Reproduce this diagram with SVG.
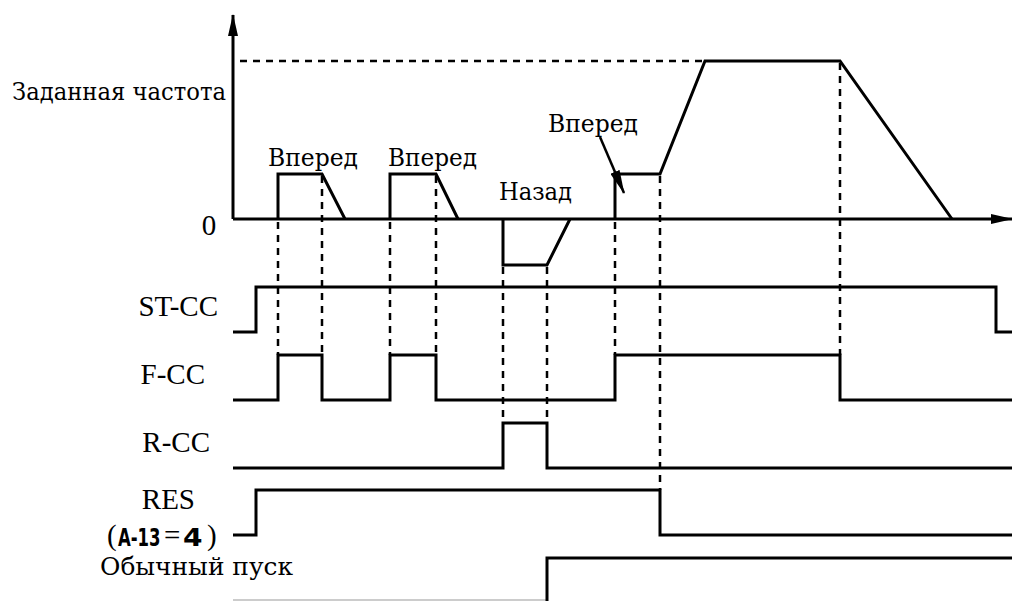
<svg xmlns="http://www.w3.org/2000/svg" width="1012" height="601" viewBox="0 0 1012 601">
<style>
.t{font-family:"Liberation Serif","Times New Roman",serif;font-size:29px;fill:#000}
.c{font-family:"DejaVu Serif","Liberation Serif",serif;font-size:25px;fill:#000}
.s{fill:none;stroke:#000;stroke-width:3;stroke-linejoin:miter}
.d{fill:none;stroke:#000;stroke-width:2.5;stroke-dasharray:7,6}
.led{font-family:"DejaVu Sans","Liberation Sans",sans-serif;font-weight:bold;font-size:16.5px}
</style>
<defs>
<marker id="ah" markerWidth="24" markerHeight="10" refX="23" refY="5" orient="auto" markerUnits="userSpaceOnUse" viewBox="0 0 24 10">
<path d="M0,0 L24,5 L0,10 Z" fill="#000"/>
</marker>
<marker id="axh" markerWidth="22" markerHeight="10" refX="21" refY="5" orient="auto" markerUnits="userSpaceOnUse" viewBox="0 0 22 10">
<path d="M0,0 L22,5 L0,10 Z" fill="#000"/>
</marker>
</defs>
<g id="labels">
<text class="c" x="12" y="100" textLength="214" lengthAdjust="spacingAndGlyphs">Заданная частота</text>
<text class="t" x="209" y="235" text-anchor="middle">0</text>
<text class="c" x="268" y="166" textLength="90" lengthAdjust="spacingAndGlyphs">Вперед</text>
<text class="c" x="388" y="166" textLength="89" lengthAdjust="spacingAndGlyphs">Вперед</text>
<text class="c" x="499" y="200" textLength="73" lengthAdjust="spacingAndGlyphs">Назад</text>
<text class="c" x="548" y="132" textLength="90" lengthAdjust="spacingAndGlyphs">Вперед</text>
<text class="t" x="218" y="316" text-anchor="end">ST-CC</text>
<text class="t" x="205" y="384" text-anchor="end">F-CC</text>
<text class="t" x="210" y="452" text-anchor="end">R-CC</text>
<text class="t" x="195" y="509" text-anchor="end">RES</text>
<text class="t" x="107" y="545">(</text>
<text class="led" transform="translate(118,546) scale(1,1.5)">A-13</text>
<text class="t" x="164" y="545">=</text>
<text class="led" transform="translate(183,546) scale(1.7,1.5)">4</text>
<text class="t" x="207" y="545">)</text>
<text class="c" x="100" y="575" textLength="193" lengthAdjust="spacingAndGlyphs">Обычный пуск</text>
</g>
<g id="axes">
<line class="s" x1="233" y1="219" x2="233" y2="15" marker-end="url(#axh)"/>
<line class="s" x1="233" y1="219" x2="1012" y2="219" marker-end="url(#axh)"/>
<line class="d" x1="240" y1="61" x2="705" y2="61"/>
</g>
<g id="frequency">
<polyline class="s" points="278,219 278,174 322,174 345,219"/>
<polyline class="s" points="390,219 390,174 436,174 458,219"/>
<polyline class="s" points="503,219 503,265 547,265 570,219"/>
<polyline class="s" points="615,219 615,174 660,174 705,61 840,61 952,219"/>
<line x1="600" y1="137" x2="624" y2="193" stroke="#000" stroke-width="2.5" marker-end="url(#ah)"/>
</g>
<g id="signals">
<polyline class="s" points="233,332 256,332 256,287 996,287 996,332 1012,332"/>
<polyline class="s" points="233,400 278,400 278,355 322,355 322,400 390,400 390,355 436,355 436,400 615,400 615,355 840,355 840,400 1012,400"/>
<polyline class="s" points="233,468 503,468 503,423 547,423 547,468 1012,468"/>
<polyline class="s" points="233,535 256,535 256,490 660,490 660,535 1012,535"/>
<polyline points="233,600 547,600" style="fill:none;stroke:#ccc;stroke-width:2"/>
<polyline class="s" points="547,601 547,558 1012,558"/>
</g>
<g id="connectors">
<line class="d" x1="278" y1="222" x2="278" y2="355"/>
<line class="d" x1="322" y1="176" x2="322" y2="355"/>
<line class="d" x1="390" y1="222" x2="390" y2="355"/>
<line class="d" x1="436" y1="176" x2="436" y2="355"/>
<line class="d" x1="503" y1="267" x2="503" y2="423"/>
<line class="d" x1="547" y1="267" x2="547" y2="423"/>
<line class="d" x1="615" y1="222" x2="615" y2="355"/>
<line class="d" x1="660" y1="176" x2="660" y2="490"/>
<line class="d" x1="840" y1="63" x2="840" y2="355"/>
</g>
</svg>
